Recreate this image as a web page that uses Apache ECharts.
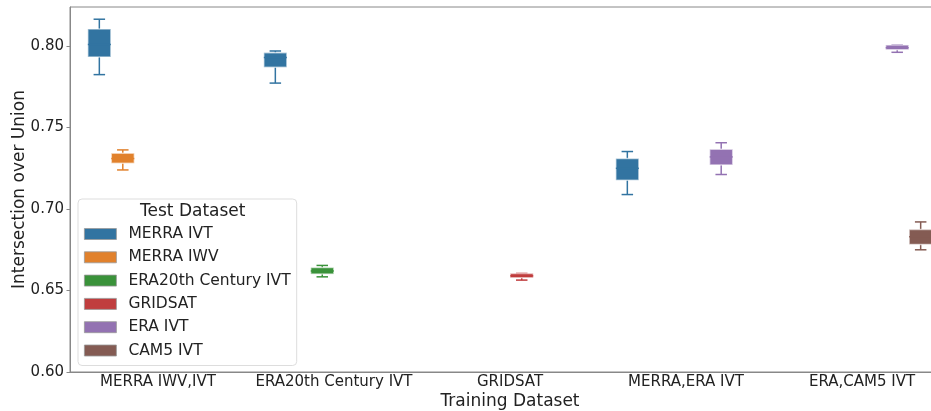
<!DOCTYPE html>
<html>
<head>
<meta charset="utf-8">
<script src="https://cdn.jsdelivr.net/npm/echarts@6/dist/echarts.min.js"></script>
<style>
  html, body { margin: 0; padding: 0; background: #fff; }
  #chart { width: 931px; height: 411px; }
</style>
</head>
<body>
<div id="chart"></div>
<script>
// 训练集（x 轴分类）
var categories = ["MERRA IWV,IVT", "ERA20th Century IVT", "GRIDSAT", "MERRA,ERA IVT", "ERA,CAM5 IVT"];
// 测试集（hue）
var hues = ["MERRA IVT", "MERRA IWV", "ERA20th Century IVT", "GRIDSAT", "ERA IVT", "CAM5 IVT"];
var hueColors = ["#3274a1", "#e1812c", "#3a923a", "#c03d3e", "#9372b2", "#845b53"];
var yTicks = [0.60, 0.65, 0.70, 0.75, 0.80];

// 每个 hue 的箱线数据: [分类下标, min, q1, median, q3, max]
var merraIvt = [
  [0, 0.7825, 0.7933, 0.8010, 0.8105, 0.8165],
  [1, 0.7773, 0.7870, 0.7930, 0.7960, 0.7970],
  [3, 0.7089, 0.7177, 0.7250, 0.7310, 0.7353]
];
var merraIwv = [
  [0, 0.7240, 0.7281, 0.7310, 0.7343, 0.7363]
];
var era20Ivt = [
  [1, 0.6584, 0.6601, 0.6620, 0.6641, 0.6654]
];
var gridsat = [
  [2, 0.6564, 0.6578, 0.6590, 0.6605, 0.6605]
];
var eraIvt = [
  [3, 0.7212, 0.7271, 0.7320, 0.7367, 0.7407],
  [4, 0.7962, 0.7978, 0.7990, 0.8007, 0.8007]
];
var cam5Ivt = [
  [4, 0.6750, 0.6783, 0.6830, 0.6875, 0.6921]
];
var hueData = [merraIvt, merraIwv, era20Ivt, gridsat, eraIvt, cam5Ivt];

var myChart = echarts.init(document.getElementById("chart"));

// 仿 seaborn 的分组箱线图
function renderBox(params, api) {
  var hueIdx = params.seriesIndex;
  var color = hueColors[hueIdx];
  var cat = api.value(0);
  var band = api.size([1, 0])[0];
  var hueW = band * 0.8 / hues.length;
  var off = (hueIdx - (hues.length - 1) / 2) * hueW;
  var pMin = api.coord([cat, api.value(1)]);
  var pQ1 = api.coord([cat, api.value(2)]);
  var pMed = api.coord([cat, api.value(3)]);
  var pQ3 = api.coord([cat, api.value(4)]);
  var pMax = api.coord([cat, api.value(5)]);
  var cx = pMin[0] + off;
  var boxW = hueW * 0.98;
  var capW = boxW * 0.5;
  var lineStyle = { stroke: color, lineWidth: 1.5 };
  return {
    type: "group",
    children: [
      { type: "line", shape: { x1: cx, y1: pMin[1], x2: cx, y2: pQ1[1] }, style: lineStyle },
      { type: "line", shape: { x1: cx, y1: pQ3[1], x2: cx, y2: pMax[1] }, style: lineStyle },
      { type: "line", shape: { x1: cx - capW / 2, y1: pMin[1], x2: cx + capW / 2, y2: pMin[1] }, style: lineStyle },
      { type: "line", shape: { x1: cx - capW / 2, y1: pMax[1], x2: cx + capW / 2, y2: pMax[1] }, style: lineStyle },
      {
        type: "rect",
        shape: { x: cx - boxW / 2, y: pQ3[1], width: boxW, height: pQ1[1] - pQ3[1] },
        style: { fill: color, stroke: "rgba(255,255,255,0.55)", lineWidth: 1.5 }
      },
      { type: "line", shape: { x1: cx - boxW / 2, y1: pMed[1], x2: cx + boxW / 2, y2: pMed[1] }, style: lineStyle }
    ]
  };
}

var seriesList = hues.map(function (name, i) {
  return {
    name: name,
    type: "custom",
    renderItem: renderBox,
    itemStyle: { color: hueColors[i] },
    encode: { x: 0, y: [1, 2, 3, 4, 5] },
    data: hueData[i]
  };
});

myChart.setOption({
  animation: false,
  textStyle: { fontFamily: "DejaVu Sans" },
  grid: {
    left: 70,
    top: 7,
    bottom: 39,
    width: 880,
    outerBoundsMode: "none",
    containLabel: false,
    show: true,
    borderColor: "#888",
    borderWidth: 1
  },
  title: {
    text: "Test Dataset",
    left: 140,
    top: 203,
    padding: 0,
    textStyle: { fontSize: 17, fontWeight: "normal", color: "#222", fontFamily: "DejaVu Sans" }
  },
  legend: {
    orient: "vertical",
    left: 78,
    top: 199,
    padding: [27, 6, 7, 6],
    itemWidth: 32,
    itemHeight: 11,
    itemGap: 7.3,
    icon: "rect",
    borderColor: "#ddd",
    borderWidth: 1,
    borderRadius: 4,
    backgroundColor: "rgba(255,255,255,0.85)",
    itemStyle: { borderColor: "#999", borderWidth: 0.8 },
    textStyle: { fontSize: 15.5, color: "#222", lineHeight: 16, padding: [0, 0, 0, 7] },
    data: hues
  },
  xAxis: {
    type: "category",
    data: categories,
    name: "Training Dataset",
    nameLocation: "middle",
    nameGap: 21,
    nameMoveOverlap: false,
    nameTextStyle: { fontSize: 17, color: "#222" },
    axisLine: { lineStyle: { color: "#888", width: 1 } },
    axisTick: { alignWithLabel: true, length: 3.5, lineStyle: { color: "#888" } },
    axisLabel: { interval: 0, fontSize: 15, color: "#222", margin: 3 },
    splitLine: { show: false }
  },
  yAxis: {
    type: "value",
    min: 0.6,
    max: 0.824,
    interval: 0.05,
    name: "Intersection over Union",
    nameLocation: "middle",
    nameGap: 42,
    nameMoveOverlap: false,
    nameTextStyle: { fontSize: 17, color: "#222" },
    axisLine: { show: true, lineStyle: { color: "#888", width: 1 } },
    axisTick: { show: true, length: 3.5, lineStyle: { color: "#888" }, customValues: yTicks },
    axisLabel: {
      fontSize: 15,
      color: "#222",
      margin: 6,
      customValues: yTicks,
      formatter: function (v) { return v.toFixed(2); }
    },
    splitLine: { show: false }
  },
  series: seriesList
});
</script>
</body>
</html>
